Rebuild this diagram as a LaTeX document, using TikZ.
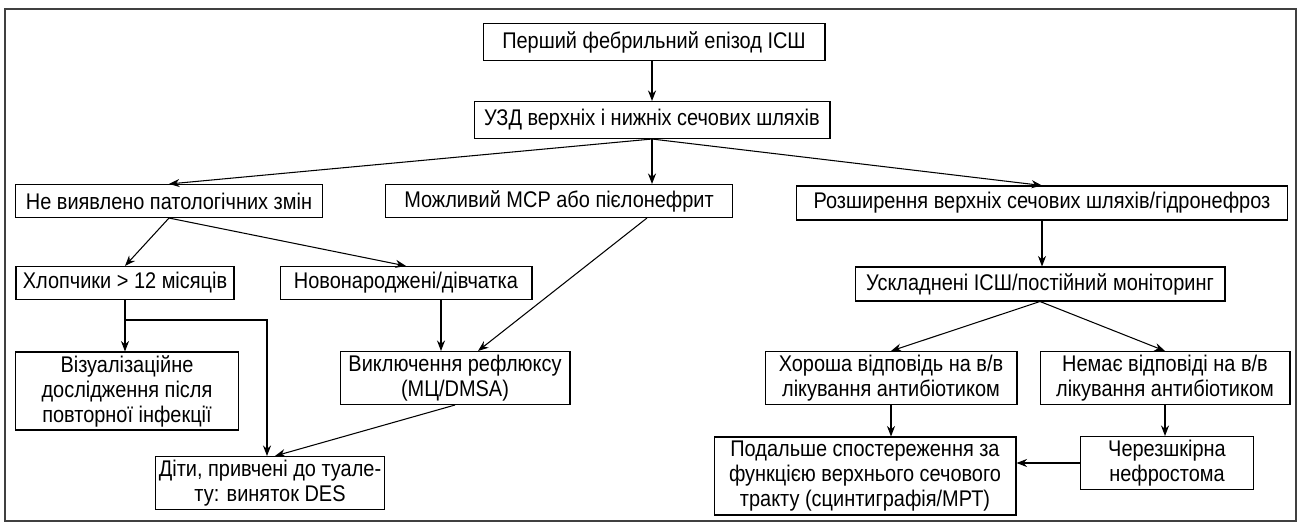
\documentclass[tikz,border=0pt]{standalone}
\usepackage{fontspec}
\setmainfont{Liberation Sans}[FakeStretch=0.88]
\usetikzlibrary{arrows.meta}

\tikzset{
    box/.style={draw, black, line width=0.6pt, align=center, inner xsep=1pt, inner ysep=0pt,
        font=\fontsize{12.9}{14.2}\selectfont},
    arr/.style={-{Stealth[length=6pt,width=4.6pt]}, line width=0.6pt}
}

\begin{document}
\begin{tikzpicture}[x=0.02cm, y=-0.02cm]

    \useasboundingbox (0,0) rectangle (1300,526);

    % Draw the frame
    \draw[line width=1pt, black!75] (5,9) rectangle (1296,521);

    % Top of the tree
    \node[box, minimum width=6.84cm, minimum height=0.74cm] (first) at (654,42) {Перший фебрильний епізод ІСШ};
    \node[box, minimum width=7.12cm, minimum height=0.74cm] (uzd) at (652,120) {УЗД верхніх і нижніх сечових шляхів};

    % Second row
    \node[box, minimum width=6.14cm, minimum height=0.66cm] (nevyav) at (169,201) {Не виявлено патологічних змін};
    \node[box, minimum width=6.94cm, minimum height=0.66cm] (mozh) at (559,201) {Можливий МСР або пієлонефрит};
    \node[box, minimum width=9.82cm, minimum height=0.68cm] (rozsh) at (1042,203) {Розширення верхніх сечових шляхів/гідронефроз};

    % Third row
    \node[box, minimum width=4.36cm, minimum height=0.66cm] (khlop) at (125,283) {Хлопчики > 12 місяців};
    \node[box, minimum width=5.04cm, minimum height=0.66cm] (novonar) at (406,283) {Новонароджені/дівчатка};
    \node[box, minimum width=7.40cm, minimum height=0.68cm] (uskl) at (1040,284) {Ускладнені ІСШ/постійний моніторинг};

    % Fourth row
    \node[box, minimum width=4.46cm, minimum height=1.56cm] (viz) at (127,391) {Візуалізаційне\\дослідження після\\повторної інфекції};
    \node[box, minimum width=4.60cm, minimum height=1.06cm] (vykl) at (455,378) {Виключення рефлюксу\\(МЦ/DMSA)};
    \node[box, minimum width=5.04cm, minimum height=1.06cm] (khor) at (891,378) {Хороша відповідь на в/в\\лікування антибіотиком};
    \node[box, minimum width=5.00cm, minimum height=1.06cm] (nemaie) at (1165,378) {Немає відповіді на в/в\\лікування антибіотиком};

    % Bottom row
    \node[box, minimum width=4.58cm, minimum height=1.06cm] (dity) at (270,483) {Діти, привчені до туале-\\ту: виняток DES};
    \node[box, minimum width=6.04cm, minimum height=1.56cm] (podal) at (865,476) {Подальше спостереження за\\функцією верхнього сечового\\тракту (сцинтиграфія/МРТ)};
    \node[box, minimum width=3.46cm, minimum height=1.06cm] (cherez) at (1167,463) {Черезшкірна\\нефростома};

    % Arrows from the top
    \draw[arr] (uzd.north |- first.south) -- (uzd.north);
    \draw[arr] (uzd.south) -- (nevyav.north);
    \draw[arr] (uzd.south) -- (uzd.south |- mozh.north);
    \draw[arr] (uzd.south) -- (rozsh.north);

    % Left branch
    \draw[arr] (nevyav.south) -- (khlop.north);
    \draw[arr] (nevyav.south) -- (novonar.north);
    \draw[arr] (khlop.south) -- (khlop.south |- viz.north);
    \coordinate (brk) at (267,320);
    \draw[arr] (khlop.south |- brk) -- (brk) -- (brk |- dity.north);
    \draw[arr] ([xshift=0.7cm]novonar.south) -- ([xshift=0.7cm]novonar.south |- vykl.north);
    \draw[arr] ([xshift=1.76cm]mozh.south) -- ([xshift=0.46cm]vykl.north);
    \draw[arr] (vykl.south) -- ([xshift=0.1cm]dity.north);

    % Right branch
    \draw[arr] (rozsh.south) -- (rozsh.south |- uskl.north);
    \draw[arr] (uskl.south) -- (khor.north);
    \draw[arr] (uskl.south) -- (nemaie.north);
    \draw[arr] (khor.south) -- (khor.south |- podal.north);
    \draw[arr] (nemaie.south) -- (nemaie.south |- cherez.north);
    \draw[arr] (cherez.west) -- (cherez.west -| podal.east);

\end{tikzpicture}
\end{document}
